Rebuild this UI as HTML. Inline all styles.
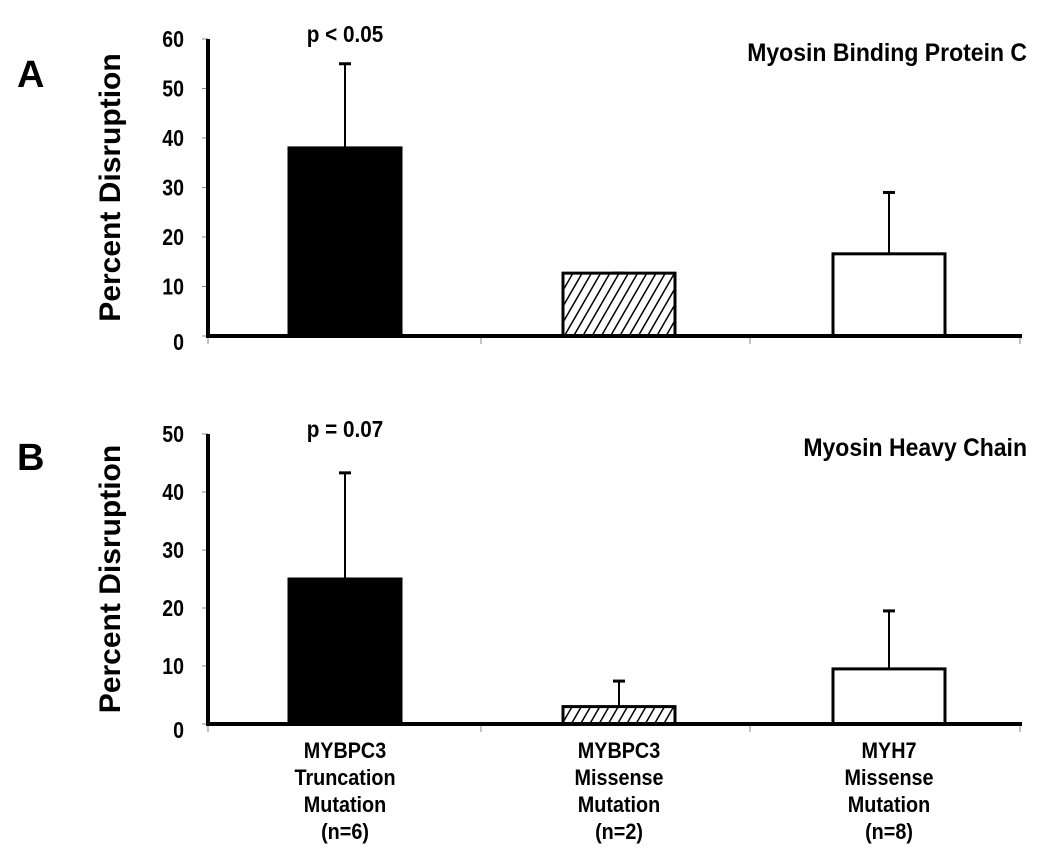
<!DOCTYPE html>
<html><head><meta charset="utf-8"><style>
html,body{margin:0;padding:0;background:#fff;}
svg{display:block;font-family:"Liberation Sans",Arial,sans-serif;font-weight:bold;}
</style></head><body>
<svg id="chart" width="1040" height="864" viewBox="0 0 1040 864">
<defs>
<pattern id="hatch" patternUnits="userSpaceOnUse" width="8" height="8" patternTransform="rotate(30)">
<rect width="8" height="8" fill="#fff"/><line x1="0" y1="0" x2="0" y2="8" stroke="#000" stroke-width="3"/>
</pattern>
</defs>
<g id="root"></g>
</svg>
<script>
const categories = ["MYBPC3 Truncation", "MYBPC3 Missense", "MYH7 Missense"];
const panelAValues = [38, 12.7, 16.6];
const panelAErrors = [55, 12.7, 29];
const panelBValues = [25, 3, 9.5];
const panelBErrors = [43.3, 7.4, 19.5];
const panelATicks = [0, 10, 20, 30, 40, 50, 60];
const panelBTicks = [0, 10, 20, 30, 40, 50];

const NS = "http://www.w3.org/2000/svg";
const root = document.getElementById("root");
function mk(tag, attrs, parent) {
  const e = document.createElementNS(NS, tag);
  for (const k in attrs) e.setAttribute(k, attrs[k]);
  (parent || root).appendChild(e);
  return e;
}
const barLeft = [289, 563, 833];
const barW = 112;
const fills = ["#000", "url(#hatch)", "#fff"];

function narrowText(parent, x, y, size, anchor, str, sx) {
  const t = mk("text", {x: 0, y: 0, "font-size": size, "text-anchor": anchor, transform: `translate(${x},${y}) scale(${sx},1)`}, parent);
  t.textContent = str;
  return t;
}

function panel(id, values, errors, ticks, y0, yTop, maxV, letter, letterY, pText, title) {
  const g = mk("g", {});
  
  
  const y = v => y0 - (v / maxV) * (y0 - yTop);
  const x0 = 208;
  const L = mk("text", {x: 17, y: letterY, "font-size": 38}, g);
  L.textContent = letter;
  
  
  const cy = (y0 + yTop) / 2;
  const yt = mk("text", {x: 0, y: 0, "font-size": 30, "text-anchor": "middle", transform: `translate(120,${cy}) rotate(-90)`}, g);
  yt.textContent = "Percent Disruption";
  
  
  ticks.forEach(t => {
    const ty = y(t);
    const tl = mk("line", {x1: x0 - 6, x2: x0, y1: ty, y2: ty, stroke: "#888", "stroke-width": 1}, g);
    
    
    const tx = narrowText(g, 184, ty + 8 + (t === 0 ? 6 : 0), 23, "end", String(t), 0.85);
    
    
  });
  [208, 481, 750, 1020].forEach(cx => {
    const c = mk("line", {x1: cx, x2: cx, y1: y0, y2: y0 + 8, stroke: "#888", "stroke-width": 1}, g);
    
    
  });
  values.forEach((v, i) => {
    const cx = barLeft[i] + barW / 2;
    const el = mk("line", {x1: cx, x2: cx, y1: y(errors[i]), y2: y(v), stroke: "#000", "stroke-width": 2}, g);
    
    
    const cap = mk("line", {x1: cx - 6, x2: cx + 6, y1: y(errors[i]), y2: y(errors[i]), stroke: "#000", "stroke-width": 3}, g);
    
    
    const r = mk("rect", {x: barLeft[i], y: y(v), width: barW, height: y0 - y(v), fill: fills[i], stroke: "#000", "stroke-width": 3}, g);
    
    
  });
  const ya = mk("line", {x1: x0, x2: x0, y1: yTop, y2: y0 + 2, stroke: "#000", "stroke-width": 4}, g);
  
  
  const xa = mk("line", {x1: x0 - 2, x2: 1022, y1: y0, y2: y0, stroke: "#000", "stroke-width": 4}, g);
  
  
  const p = narrowText(g, 345, yTop + 3, 23, "middle", pText, 0.9);
  
  
  const ti = narrowText(g, 1027, yTop + 22, 25, "end", title, 0.92);
  
  
}
panel("a", panelAValues, panelAErrors, panelATicks, 336, 39, 60, "A", 87, "p < 0.05", "Myosin Binding Protein C");
panel("b", panelBValues, panelBErrors, panelBTicks, 724, 434, 50, "B", 470, "p = 0.07", "Myosin Heavy Chain");

const catLines = [["MYBPC3","Truncation","Mutation","(n=6)"],["MYBPC3","Missense","Mutation","(n=2)"],["MYH7","Missense","Mutation","(n=8)"]];
catLines.forEach((lines, i) => {
  const cx = barLeft[i] + barW / 2;
  const t = mk("text", {x: 0, y: 0, "font-size": 22, "text-anchor": "middle", transform: `translate(${cx},758) scale(0.9,1)`});
  
  
  lines.forEach((s, j) => {
    const ts = mk("tspan", {x: 0, dy: j === 0 ? 0 : 27}, t);
    ts.textContent = s;
  });
});
</script>
</body></html>
